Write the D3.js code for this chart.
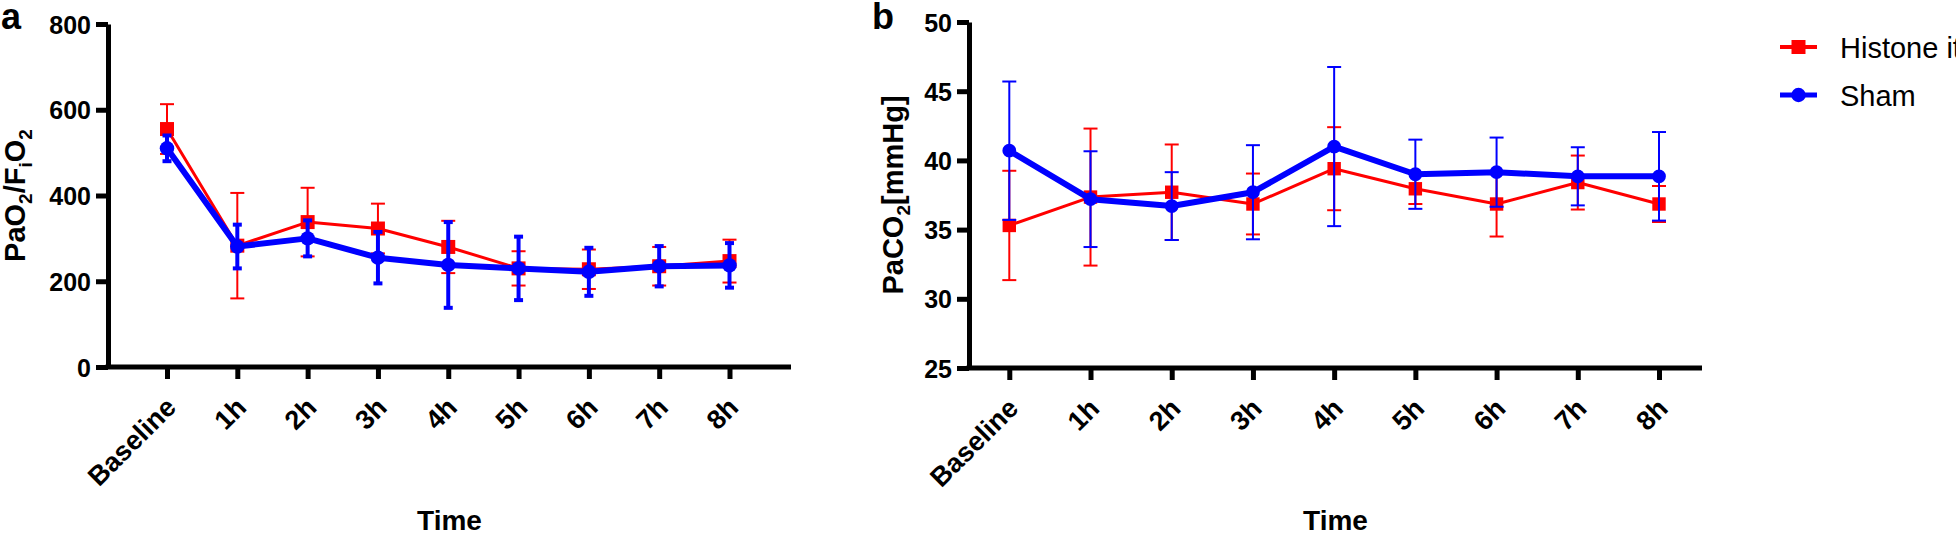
<!DOCTYPE html>
<html>
<head>
<meta charset="utf-8">
<script src="https://cdn.jsdelivr.net/npm/d3@7"></script>
<style>
  body { margin: 0; background: #fff; }
  svg { display: block; font-family: Arial, "Liberation Sans", Helvetica, sans-serif; }
</style>
</head>
<body>
<div class="chart"></div>
<script>
// time points on the x axis
var timeLabels = ["Baseline", "1h", "2h", "3h", "4h", "5h", "6h", "7h", "8h"];

// panel a: PaO2/FiO2 (mean and SD)
var pfHistone   = [555, 283, 338, 323, 280, 230, 228, 235, 247];
var pfHistoneSD = [58, 123, 80, 58, 61, 40, 46, 45, 50];
var pfSham      = [510, 281, 300, 255, 238, 230, 222, 235, 237];
var pfShamSD    = [30, 51, 42, 60, 100, 74, 56, 47, 52];
var pfTicks     = [0, 200, 400, 600, 800];

// panel b: PaCO2 [mmHg] (mean and SD)
var coHistone   = [35.3, 37.35, 37.7, 36.85, 39.4, 37.95, 36.85, 38.4, 36.85];
var coHistoneSD = [3.95, 4.95, 3.45, 2.2, 3.0, 1.1, 2.35, 1.95, 1.3];
var coSham      = [40.7, 37.2, 36.7, 37.7, 41.0, 39.0, 39.15, 38.85, 38.85];
var coShamSD    = [5.0, 3.46, 2.45, 3.4, 5.75, 2.5, 2.5, 2.1, 3.2];
var coTicks     = [25, 30, 35, 40, 45, 50];

var seriesNames = ["Histone it", "Sham"];

var RED = "#ff0000", BLUE = "#0000ff";

var svg = d3.select(".chart").append("svg")
  .attr("width", 1956)
  .attr("height", 533);

function series(mean, sd) {
  return mean.map(function(m, i) { return {t: timeLabels[i], m: m, sd: sd[i]}; });
}

function drawPanel(p) {
  var x = d3.scalePoint().domain(timeLabels).range([p.firstX, p.lastX]);
  var y = d3.scaleLinear().domain([p.yTicks[0], p.yTicks[p.yTicks.length - 1]]).range([p.bottom, p.top]);
  var g = svg.append("g");

  // y axis
  var ya = g.append("g")
    .attr("transform", "translate(" + p.left + ",0)")
    .call(d3.axisLeft(y).tickValues(p.yTicks).tickSize(12).tickPadding(5).tickSizeOuter(0));
  ya.attr("font-family", null).attr("font-size", 25).attr("font-weight", "bold");
  ya.selectAll("line, path").attr("stroke", "#000").attr("stroke-width", 5);
  ya.selectAll("text").attr("fill", "#000").attr("dy", "0.36em");

  // x axis
  var xa = g.append("g")
    .attr("transform", "translate(0," + p.bottom + ")")
    .call(d3.axisBottom(x).tickSize(12).tickSizeOuter(0));
  xa.select(".domain").remove();
  xa.attr("font-family", null).attr("font-size", 27).attr("font-weight", "bold");
  xa.selectAll("line").attr("stroke", "#000").attr("stroke-width", 5);
  xa.selectAll("text")
    .attr("fill", "#000")
    .attr("x", 0).attr("y", 0).attr("dy", 0)
    .attr("text-anchor", "end")
    .attr("transform", "translate(10,42) rotate(-45)");
  g.append("line")
    .attr("x1", p.left - 2.5).attr("x2", p.right)
    .attr("y1", p.bottom).attr("y2", p.bottom)
    .attr("stroke", "#000").attr("stroke-width", 5);

  // series: histone first, sham on top
  p.series.forEach(function(s) {
    var data = series(s.mean, s.sd);
    var sg = g.append("g");

    var eb = sg.selectAll(".err").data(data).enter().append("g")
      .attr("stroke", s.color).attr("stroke-width", s.errWidth);
    eb.append("line")
      .attr("x1", function(d) { return x(d.t); }).attr("x2", function(d) { return x(d.t); })
      .attr("y1", function(d) { return y(d.m - d.sd); }).attr("y2", function(d) { return y(d.m + d.sd); });
    [-1, 1].forEach(function(sign) {
      eb.append("line")
        .attr("x1", function(d) { return x(d.t) - s.cap; }).attr("x2", function(d) { return x(d.t) + s.cap; })
        .attr("y1", function(d) { return y(d.m + sign * d.sd); }).attr("y2", function(d) { return y(d.m + sign * d.sd); });
    });

    sg.append("path")
      .datum(data)
      .attr("fill", "none")
      .attr("stroke", s.color)
      .attr("stroke-width", s.lineWidth)
      .attr("stroke-linejoin", "round")
      .attr("d", d3.line().x(function(d) { return x(d.t); }).y(function(d) { return y(d.m); }));

    sg.selectAll(".mk").data(data).enter().append("path")
      .attr("fill", s.color)
      .attr("transform", function(d) { return "translate(" + x(d.t) + "," + y(d.m) + ")"; })
      .attr("d", d3.symbol().type(s.symbol).size(s.symbolSize));
  });

  // panel letter
  g.append("text")
    .attr("x", p.letterX).attr("y", 29)
    .attr("font-size", 36).attr("font-weight", "bold")
    .text(p.letter);

  // y title with subscripts
  var yt = g.append("text")
    .attr("transform", "translate(" + p.titleX + "," + ((p.top + p.bottom) / 2) + ") rotate(-90)")
    .attr("text-anchor", "middle")
    .attr("font-size", 29).attr("font-weight", "bold");
  var shift = 0;
  p.title.forEach(function(part) {
    var isSub = part[1];
    var dy = isSub ? 7 - shift : -shift;
    shift = isSub ? 7 : 0;
    yt.append("tspan")
      .attr("dy", dy)
      .attr("font-size", isSub ? 19 : 29)
      .text(part[0]);
  });

  // x title
  g.append("text")
    .attr("x", (p.left + p.right) / 2).attr("y", 530)
    .attr("text-anchor", "middle")
    .attr("font-size", 28).attr("font-weight", "bold")
    .text("Time");
}

drawPanel({
  left: 108, right: 791, top: 24, bottom: 367,
  firstX: 167, lastX: 729.5,
  yTicks: pfTicks,
  letter: "a", letterX: 1,
  titleX: 25,
  title: [["PaO", false], ["2", true], ["/F", false], ["i", true], ["O", false], ["2", true]],
  series: [
    {mean: pfHistone, sd: pfHistoneSD, color: RED, lineWidth: 3, errWidth: 2, cap: 7, symbol: d3.symbolSquare, symbolSize: 196},
    {mean: pfSham, sd: pfShamSD, color: BLUE, lineWidth: 6, errWidth: 4, cap: 4.5, symbol: d3.symbolCircle, symbolSize: 165}
  ]
});

drawPanel({
  left: 969, right: 1702, top: 22, bottom: 368,
  firstX: 1009.3, lastX: 1659,
  yTicks: coTicks,
  letter: "b", letterX: 872,
  titleX: 903,
  title: [["PaCO", false], ["2", true], ["[mmHg]", false]],
  series: [
    {mean: coHistone, sd: coHistoneSD, color: RED, lineWidth: 3, errWidth: 2, cap: 7, symbol: d3.symbolSquare, symbolSize: 180},
    {mean: coSham, sd: coShamSD, color: BLUE, lineWidth: 6, errWidth: 2, cap: 7, symbol: d3.symbolCircle, symbolSize: 150}
  ]
});

// legend
var legend = svg.append("g").attr("transform", "translate(1780,0)");
var legendItems = [
  {name: seriesNames[0], color: RED, symbol: d3.symbolSquare, size: 196, y: 47, lw: 4},
  {name: seriesNames[1], color: BLUE, symbol: d3.symbolCircle, size: 165, y: 95, lw: 5}
];
legendItems.forEach(function(it) {
  legend.append("line")
    .attr("x1", 0).attr("x2", 37).attr("y1", it.y).attr("y2", it.y)
    .attr("stroke", it.color).attr("stroke-width", it.lw);
  legend.append("path")
    .attr("transform", "translate(18.5," + it.y + ")")
    .attr("fill", it.color)
    .attr("d", d3.symbol().type(it.symbol).size(it.size));
  legend.append("text")
    .attr("x", 60).attr("y", it.y + 10.5)
    .attr("font-size", 29)
    .text(it.name);
});
</script>
</body>
</html>
